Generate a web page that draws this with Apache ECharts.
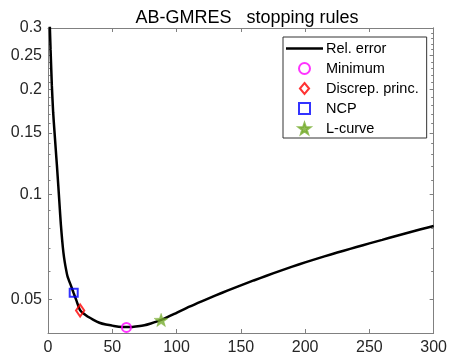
<!DOCTYPE html>
<html>
<head>
<meta charset="utf-8">
<script src="https://cdn.jsdelivr.net/npm/echarts@6/dist/echarts.min.js"></script>
<style>html,body{margin:0;padding:0;background:#fff}#c{width:450px;height:357px}</style>
</head>
<body>
<div id="c"></div>
<script>
// iteration number and relative error of AB-GMRES
var iters = [1,2,3,4,5,6,7,8,9,10,11,12,13,14,15,16,18,20,22,25,30,35,40,45,50,55,60,65,70,75,80,85,90,100,110,120,130,140,150,160,170,180,190,200,210,220,230,240,250,260,270,280,290,300];
var relErr = [0.34,0.26,0.205,0.172,0.152,0.135,0.12,0.106,0.093,0.082,0.074,0.068,0.064,0.061,0.0585,0.057,0.0545,0.052,0.0497,0.0465,0.0448,0.0437,0.0428,0.0423,0.042,0.0417,0.0416,0.0416,0.0418,0.0421,0.0426,0.0432,0.0439,0.0457,0.0476,0.0494,0.0512,0.053,0.0548,0.0566,0.0584,0.0602,0.062,0.0638,0.0655,0.0672,0.0689,0.0706,0.0723,0.074,0.0758,0.0776,0.0794,0.0811];
// stopping rule markers [iteration, rel. error]
var minimumPt = [61, 0.0415];
var discrepPt = [25, 0.0464];
var ncpPt = [20, 0.0522];
var lcurvePt = [88, 0.0436];
// axis ticks
var yLabelTicks = [0.05,0.1,0.15,0.2,0.25,0.3];
var yMinorTicks = [0.04,0.06,0.07,0.08,0.09,0.11,0.12,0.13,0.14,0.16,0.17,0.18,0.19,0.21,0.22,0.23,0.24,0.26,0.27,0.28,0.29];

var FONT = 'Liberation Sans, Arial, Helvetica, sans-serif';
var AX = '#808080';
var TXT = '#262626';

var lineData = iters.map(function(x,i){return [x, relErr[i]];});

function yAx(pos, ticks, len, labels){
  return {
    type:'log', min:0.04, max:0.3, position:pos,
    axisLine:{show:true,lineStyle:{color:AX,width:1}},
    axisTick:{show:true,inside:true,length:len,customValues:ticks,lineStyle:{color:AX,width:1}},
    axisLabel:{show:labels,customValues:ticks,color:TXT,fontSize:16,fontFamily:FONT,margin:6,
      formatter:function(v){return String(+(+v).toPrecision(3));}},
    splitLine:{show:false},minorTick:{show:false}
  };
}
function xAx(pos, labels){
  return {
    type:'value', min:0, max:300, interval:50, position:pos,
    axisLine:{show:true,onZero:false,lineStyle:{color:AX,width:1}},
    axisTick:{show:true,inside:true,length:4,lineStyle:{color:AX,width:1}},
    axisLabel:{show:labels,color:TXT,fontSize:16,fontFamily:FONT,margin:7,showMinLabel:true,showMaxLabel:true},
    splitLine:{show:false}
  };
}

var chart = echarts.init(document.getElementById('c'), null, {renderer:'canvas'});
chart.setOption({
  animation:false,
  backgroundColor:'#fff',
  title:{text:'AB-GMRES   stopping rules',left:242,textAlign:'center',top:4,
    textStyle:{fontFamily:FONT,fontSize:18,fontWeight:'normal',color:'#000'}},
  grid:{left:48,right:15,top:28,bottom:24,containLabel:false},
  xAxis:[xAx('bottom',true), xAx('top',false)],
  yAxis:[yAx('left',yLabelTicks,4,true), yAx('left',yMinorTicks,2.5,false),
         yAx('right',yLabelTicks,4,false), yAx('right',yMinorTicks,2.5,false)],
  legend:{
    orient:'vertical',left:283,top:37,
    padding:[4,8,2,3],itemGap:5,itemWidth:37,itemHeight:11,
    symbolKeepAspect:true,
    borderColor:'#333',borderWidth:1,backgroundColor:'#fff',
    selectedMode:false,
    textStyle:{fontFamily:FONT,fontSize:14.5,color:'#000',padding:[0,0,0,-2]},
    data:[
      {name:'Rel. error',icon:'path://M0,0 L37,0 L37,2.5 L0,2.5 Z',itemStyle:{color:'#000',borderWidth:0}},
      {name:'Minimum'},
      {name:'Discrep. princ.'},
      {name:'NCP'},
      {name:'L-curve'}
    ]
  },
  series:[
    {name:'Rel. error',type:'line',data:lineData,symbol:'none',smooth:0.2,
     lineStyle:{color:'#000',width:2.5},itemStyle:{color:'#000'},clip:true,z:2},
    {name:'Minimum',type:'scatter',data:[minimumPt],symbol:'circle',symbolSize:9,symbolKeepAspect:true,
     itemStyle:{color:'rgba(0,0,0,0)',borderColor:'#ff00ff',borderWidth:2},z:3},
    {name:'Discrep. princ.',type:'scatter',data:[discrepPt],symbol:'path://M0,-6 L5,0 L0,6 L-5,0 Z',symbolSize:[10,12],symbolKeepAspect:true,
     itemStyle:{color:'rgba(0,0,0,0)',borderColor:'#ff0000',borderWidth:2},z:3},
    {name:'NCP',type:'scatter',data:[ncpPt],symbol:'path://M0,0 L8,0 L8,8 L0,8 Z',symbolSize:8,symbolKeepAspect:true,
     itemStyle:{color:'rgba(0,0,0,0)',borderColor:'#0000ff',borderWidth:2},z:3},
    {name:'L-curve',type:'scatter',data:[lcurvePt],symbolKeepAspect:true,
     symbol:'path://M0,-10 L2.35,-3.24 L9.51,-3.09 L3.8,1.24 L5.88,8.09 L0,4 L-5.88,8.09 L-3.8,1.24 L-9.51,-3.09 L-2.35,-3.24 Z',
     symbolSize:14,itemStyle:{color:'#77ac30',borderColor:'#77ac30',borderWidth:0.5},z:3}
  ]
});
</script>
</body>
</html>
